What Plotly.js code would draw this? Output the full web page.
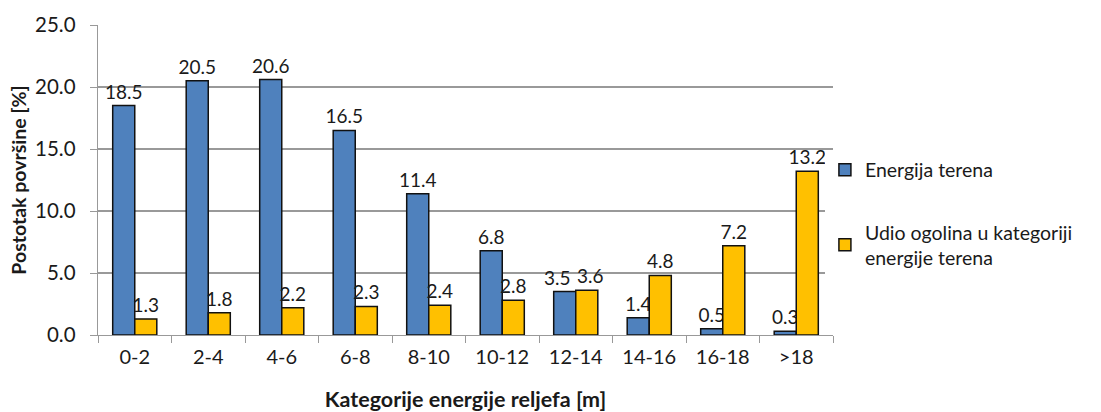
<!DOCTYPE html>
<html>
<head>
<meta charset="utf-8">
<script src="https://cdn.plot.ly/plotly-3.0.1.min.js"></script>
<style>html,body{margin:0;padding:0;background:#fff;}#chart{width:1101px;height:412px;}</style>
</head>
<body>
<div id="chart"></div>
<script>
const categories = ['0-2','2-4','4-6','6-8','8-10','10-12','12-14','14-16','16-18','>18'];
const energijaTerena = [18.5, 20.5, 20.6, 16.5, 11.4, 6.8, 3.5, 1.4, 0.5, 0.3];
const udioOgolina = [1.3, 1.8, 2.2, 2.3, 2.4, 2.8, 3.6, 4.8, 7.2, 13.2];
const seriesNames = ['Energija terena', 'Udio ogolina u kategoriji<br>energije terena'];
const yTitle = 'Postotak površine [%]';
const xTitle = 'Kategorije energije reljefa [m]';

const FONT = 'Lato, "Open Sans", sans-serif';
const TXT = '#1a1a1a';
const LABEL_SIZE = 19;

// groups where both bars are about equal: their labels are drawn as annotations nudged apart
const near = energijaTerena.map((v, i) => Math.abs(v - udioOgolina[i]) < 1);
const labelsA = energijaTerena.map((v, i) => near[i] ? '' : v.toFixed(1));
const labelsB = udioOgolina.map((v, i) => near[i] ? '' : v.toFixed(1));

const annotations = [];
categories.forEach((c, i) => {
  if (!near[i]) return;
  [[energijaTerena[i], -18], [udioOgolina[i], 15]].forEach(([v, dx]) => {
    annotations.push({
      x: c, y: v, xref: 'x', yref: 'y', xshift: dx, yshift: 1,
      yanchor: 'bottom', xanchor: 'center', showarrow: false,
      text: v.toFixed(1), font: {family: FONT, size: LABEL_SIZE, color: TXT}
    });
  });
});

const common = {
  type: 'bar',
  x: categories,
  texttemplate: '%{text}',
  textposition: 'outside',
  constraintext: 'none',
  cliponaxis: false,
  textfont: {family: FONT, size: LABEL_SIZE, color: TXT},
  hoverinfo: 'skip'
};
const traces = [
  Object.assign({}, common, {
    name: seriesNames[0], y: energijaTerena, text: labelsA, legendgroup: 'a',
    marker: {color: '#4F81BD', line: {color: '#111', width: 1.5}}
  }),
  Object.assign({}, common, {
    name: seriesNames[1], y: udioOgolina, text: labelsB, legendgroup: 'b',
    marker: {color: '#FFC000', line: {color: '#111', width: 1.5}}
  })
];

const layout = {
  width: 1101, height: 412,
  margin: {l: 98, r: 268, t: 25, b: 77},
  paper_bgcolor: '#fff', plot_bgcolor: '#fff',
  font: {family: FONT, size: 20, color: TXT},
  barmode: 'group',
  bargap: 0.4, bargroupgap: 0,
  showlegend: true,
  annotations: annotations,
  legend: {
    x: 0.989, xanchor: 'left', y: 0.39, yanchor: 'middle',
    traceorder: 'grouped', tracegroupgap: 34,
    font: {family: FONT, size: 19.5, color: TXT},
    itemwidth: 30
  },
  xaxis: {
    type: 'category',
    showline: true, linecolor: '#999', linewidth: 1.3,
    ticks: 'outside', tickson: 'boundaries', ticklen: 7, tickcolor: '#999',
    ticklabelstandoff: 4,
    tickfont: {family: FONT, size: 20, color: TXT},
    title: {text: '<b>' + xTitle + '</b>', font: {family: FONT, size: 21.5, color: TXT}, standoff: 24},
    showgrid: false
  },
  yaxis: {
    range: [0, 25], dtick: 5, tickformat: '.1f',
    showline: true, linecolor: '#999', linewidth: 1.3,
    ticks: 'outside', ticklen: 7, tickcolor: '#999',
    ticklabelstandoff: 10,
    gridcolor: '#999', gridwidth: 1.3,
    zeroline: false,
    tickfont: {family: FONT, size: 20.5, color: TXT},
    title: {text: '<b>' + yTitle + '</b>', font: {family: FONT, size: 19.5, color: TXT}, standoff: 3}
  }
};

Plotly.newPlot('chart', traces, layout, {displayModeBar: false, staticPlot: true});
</script>
</body>
</html>
